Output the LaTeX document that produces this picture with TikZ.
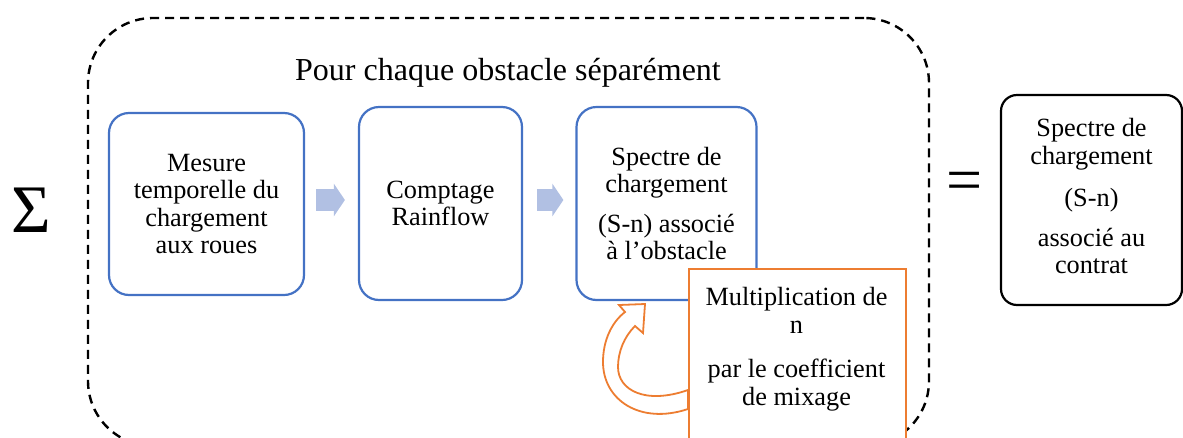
\documentclass[tikz,border=0pt]{standalone}
\usepackage{fontspec}
\setmainfont{Liberation Serif}
\usetikzlibrary{arrows.meta,calc}
\definecolor{bblue}{HTML}{4472C4}
\definecolor{ablue}{HTML}{B1C0E3}
\definecolor{oorange}{HTML}{ED7D31}
\newcommand\boxfont{\fontsize{26.3}{27.5}\selectfont}
\newcommand\titlefont{\fontsize{32}{34}\selectfont}
\begin{document}
\begin{tikzpicture}[x=1pt,y=-1pt,
  frame/.style={draw=black, line width=2.4pt, dash pattern=on 9pt off 6pt, rounded corners=65pt, inner sep=0pt},
  bluebox/.style={draw=bblue, line width=2.2pt, rounded corners=20pt, align=center, inner sep=0pt, font=\boxfont},
  blackbox/.style={draw=black, line width=2.2pt, rounded corners=16pt, inner sep=0pt},
  orangebox/.style={draw=oorange, fill=white, line width=2pt, inner sep=0pt},
  txt/.style={align=center, inner sep=0pt, font=\boxfont},
  blockarrow/.style={draw=ablue, line width=22pt, -{Triangle[length=11pt 0, width=32pt 0, fill=ablue]}},
  uturn/.style={draw=oorange, fill=white, line width=1.8pt, line join=miter}
]
\useasboundingbox (0,0) rectangle (1183,437);

\node[frame, minimum width=841, minimum height=428] (frame) at (508.5,232) {};
\node[font=\titlefont, anchor=base] (title) at (508,80) {Pour chaque obstacle séparément};

\node[bluebox, minimum width=195, minimum height=182] (b1) at (206.5,204)
  {Mesure\\temporelle du\\chargement\\aux roues};
\node[bluebox, minimum width=163, minimum height=193] (b2) at (440.5,203.5)
  {Comptage\\Rainflow};
\node[bluebox, minimum width=180, minimum height=193] (b3) at (666.5,203.5)
  {Spectre de\\chargement\\[12pt](S-n) associé\\à l’obstacle};

\draw[blockarrow] ($(b1.east)+(11,-4)$) -- ($(b2.west)+(-13,-3.5)$);
\draw[blockarrow] ($(b2.east)+(14,-3.5)$) -- ($(b3.west)+(-12,-3.5)$);

\path[uturn] (688,409) .. controls (640,425) and (603,400) .. (603,362)
  .. controls (603,340) and (612,322) .. (625,312) -- (619,305) -- (645,304)
  -- (643,333) -- (635,326) .. controls (624,337) and (618,352) .. (618,367)
  .. controls (618,390) and (645,405) .. (688,390) -- cycle;

\node[orangebox, minimum width=217, minimum height=200, anchor=north west] (mult) at (688,268) {};
\node[txt] (multtxt) at (796.5,349) {Multiplication de\\n\\[17pt]par le coefficient\\de mixage};

\node[font=\fontsize{68}{68}\selectfont, inner sep=0pt] (sigma) at (31,210.5) {Σ};
\node[font=\fontsize{64}{64}\selectfont, inner sep=0pt] (eq) at (964.5,187) {=};

\node[blackbox, minimum width=181, minimum height=210] (res) at (1091.5,200) {};
\node[txt] (restxt) at (1091.5,196) {Spectre de\\chargement\\[15pt](S-n)\\[12pt]associé au\\contrat};
\end{tikzpicture}
\end{document}
